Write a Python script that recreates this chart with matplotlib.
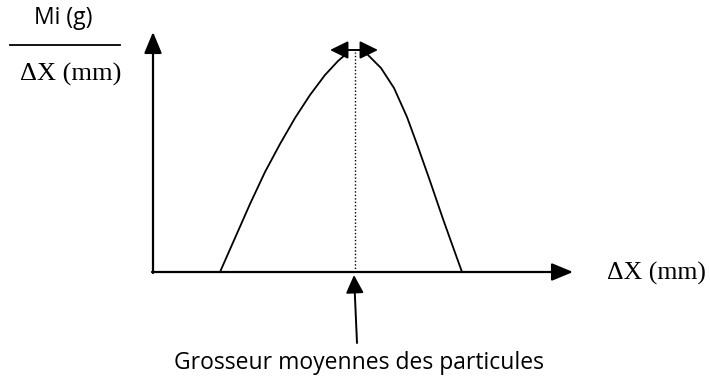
import matplotlib.pyplot as plt

# curve (origin = corner of the axes, units ~ px)
left_x = [67, 82, 97, 112, 127, 142, 157, 172, 185, 192]
left_y = [0, 34, 68, 100, 128, 154, 177, 197, 211, 217]
right_x = [215, 228, 241, 254, 265, 277, 290, 300, 309]
right_y = [217, 204, 184, 155, 125, 91, 53, 25, 0]
peak_x = 202
peak_y = 222

num_label = "Mi (g)"
den_label = "ΔX (mm)"
x_label = "ΔX (mm)"
bottom_label = "Grosseur moyennes des particules"


def main():
    fig = plt.figure(figsize=(7.1, 3.79), dpi=100)
    ax = fig.add_axes([0, 0, 1, 1])
    ax.set_xlim(-153, 557)
    ax.set_ylim(-107, 272)
    ax.axis('off')

    # axes arrows
    ax.annotate('', xy=(0, 240), xytext=(0, -1),
                arrowprops=dict(arrowstyle='-|>,head_length=0.65,head_width=0.27',
                                mutation_scale=20, lw=1.6, color='black', shrinkA=0, shrinkB=0))
    ax.annotate('', xy=(420, 0), xytext=(-1, 0),
                arrowprops=dict(arrowstyle='-|>,head_length=0.65,head_width=0.27',
                                mutation_scale=20, lw=1.6, color='black', shrinkA=0, shrinkB=0))

    # distribution curve (two branches meeting at the double arrow)
    ax.plot(left_x, left_y, color='black', lw=1.3, solid_joinstyle='round')
    ax.plot(right_x, right_y, color='black', lw=1.3, solid_joinstyle='round')

    # dotted line at the mode
    ax.plot([peak_x, peak_x], [0, peak_y - 2], color='black', lw=1.0, linestyle=(0, (1, 1.5)))

    # double arrow at the top
    ax.annotate('', xy=(peak_x - 25, peak_y), xytext=(peak_x + 23, peak_y),
                arrowprops=dict(arrowstyle='<|-|>,head_length=0.55,head_width=0.27',
                                mutation_scale=20, lw=1.4, color='black', shrinkA=0, shrinkB=0))

    # arrow pointing at the mean size
    ax.annotate('', xy=(peak_x - 1, -3), xytext=(peak_x + 2, -71),
                arrowprops=dict(arrowstyle='-|>,head_length=0.55,head_width=0.27',
                                mutation_scale=20, lw=1.4, color='black', shrinkA=0, shrinkB=0))

    # labels
    ax.text(-90, 254, num_label, fontsize=16.5, family='Open Sans', ha='center', va='center')
    ax.plot([-143, -33], [227, 227], color='black', lw=1.3)
    ax.text(-82, 198, den_label, fontsize=19, family='Liberation Serif', ha='center', va='center')
    ax.text(503, -1, x_label, fontsize=18.5, family='Liberation Serif', ha='center', va='center')
    ax.text(206, -91, bottom_label, fontsize=16.5, family='Open Sans', ha='center', va='center')

    fig.savefig('out.png', dpi=100)


if __name__ == "__main__":
    main()
